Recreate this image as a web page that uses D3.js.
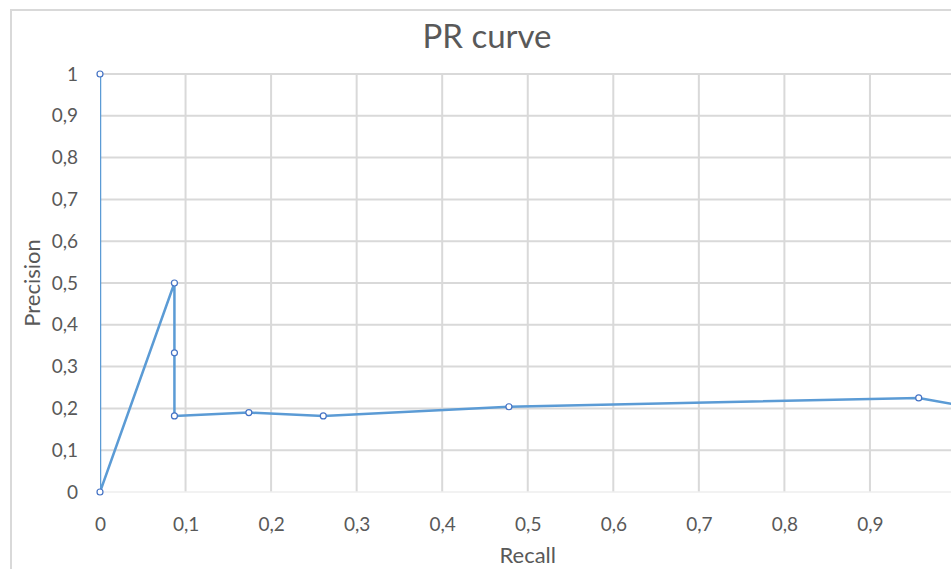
<!DOCTYPE html>
<html>
<head>
<meta charset="utf-8">
<script src="https://cdn.jsdelivr.net/npm/d3@7"></script>
<style>
  html, body { margin: 0; padding: 0; background: #fff; }
  svg { display: block; font-family: Lato, "Open Sans", sans-serif; }
</style>
</head>
<body>
<svg id="chart" width="951" height="569"></svg>
<script>
// Precision / recall pairs, in the order the curve visits them
const recall    = [0, 0, 0.087, 0.087, 0.087, 0.174, 0.261, 0.478, 0.957, 1];
const precision = [1, 0, 0.5, 0.333, 0.182, 0.19, 0.182, 0.204, 0.225, 0.209];

// Axis ticks and labels
const xTicks = [0, 0.1, 0.2, 0.3, 0.4, 0.5, 0.6, 0.7, 0.8, 0.9];
const yTicks = [0, 0.1, 0.2, 0.3, 0.4, 0.5, 0.6, 0.7, 0.8, 0.9, 1];
const fmt = v => String(+v.toFixed(1)).replace(".", ",");

const titleText = "PR curve";
const xTitle = "Recall";
const yTitle = "Precision";

const svg = d3.select("#chart");
const plot = { left: 100, right: 955.5, top: 74, bottom: 492 };

const x = d3.scaleLinear().domain([0, 1]).range([plot.left, plot.right]);
const y = d3.scaleLinear().domain([0, 1]).range([plot.bottom, plot.top]);

// Chart area frame
svg.append("rect")
  .attr("x", 11).attr("y", 10)
  .attr("width", 960).attr("height", 580)
  .attr("fill", "#fff")
  .attr("stroke", "#d9d9d9").attr("stroke-width", 2);

// Title
svg.append("text")
  .attr("x", 487).attr("y", 48)
  .attr("text-anchor", "middle")
  .attr("font-size", 33)
  .attr("fill", "#595959")
  .text(titleText);

// Gridlines
const grid = svg.append("g");
grid.selectAll("line.h")
  .data(yTicks.filter(d => d > 0))
  .join("line")
  .attr("x1", plot.left).attr("x2", plot.right)
  .attr("y1", d => y(d)).attr("y2", d => y(d))
  .attr("stroke", "#d9d9d9").attr("stroke-width", 2);
grid.selectAll("line.v")
  .data(xTicks.filter(d => d > 0))
  .join("line")
  .attr("x1", d => x(d)).attr("x2", d => x(d))
  .attr("y1", plot.top).attr("y2", plot.bottom)
  .attr("stroke", "#d9d9d9").attr("stroke-width", 2);

// Horizontal axis line
svg.append("line")
  .attr("x1", plot.left).attr("x2", plot.right)
  .attr("y1", y(0)).attr("y2", y(0))
  .attr("stroke", "#eeeeee").attr("stroke-width", 1.5);

// Axes (labels only, no domain or tick marks)
const xAxis = svg.append("g")
  .attr("transform", `translate(0,${plot.bottom})`)
  .call(d3.axisBottom(x).tickValues(xTicks).tickFormat(fmt).tickSize(0).tickPadding(26));
const yAxis = svg.append("g")
  .attr("transform", `translate(${plot.left},0)`)
  .call(d3.axisLeft(y).tickValues(yTicks).tickFormat(fmt).tickSize(0).tickPadding(22));
[xAxis, yAxis].forEach(g => {
  g.select(".domain").remove();
  g.selectAll("text")
    .attr("font-family", "Lato, 'Open Sans', sans-serif")
    .attr("font-size", 19)
    .attr("fill", "#595959");
});

// Axis titles
svg.append("text")
  .attr("x", (plot.left + plot.right) / 2).attr("y", 563)
  .attr("text-anchor", "middle")
  .attr("font-size", 22)
  .attr("fill", "#595959")
  .text(xTitle);
svg.append("text")
  .attr("transform", `translate(40,${(plot.top + plot.bottom) / 2}) rotate(-90)`)
  .attr("text-anchor", "middle")
  .attr("font-size", 22)
  .attr("fill", "#595959")
  .text(yTitle);

// Curve, clipped to the plot area
svg.append("clipPath").attr("id", "plot-clip")
  .append("rect")
  .attr("x", plot.left).attr("y", plot.top - 2)
  .attr("width", plot.right - plot.left).attr("height", plot.bottom - plot.top + 4);

const pts = recall.map((r, i) => [r, precision[i]]);
svg.append("path")
  .datum(pts)
  .attr("clip-path", "url(#plot-clip)")
  .attr("fill", "none")
  .attr("stroke", "#5b9bd5")
  .attr("stroke-width", 2.5)
  .attr("stroke-linejoin", "round")
  .attr("d", d3.line().x(d => x(d[0])).y(d => y(d[1])));

// Markers
svg.selectAll("circle.pt")
  .data(pts)
  .join("circle")
  .attr("class", "pt")
  .attr("cx", d => x(d[0])).attr("cy", d => y(d[1]))
  .attr("r", 3)
  .attr("fill", "#fff")
  .attr("stroke", "#4472c4")
  .attr("stroke-width", 1.2);
</script>
</body>
</html>
